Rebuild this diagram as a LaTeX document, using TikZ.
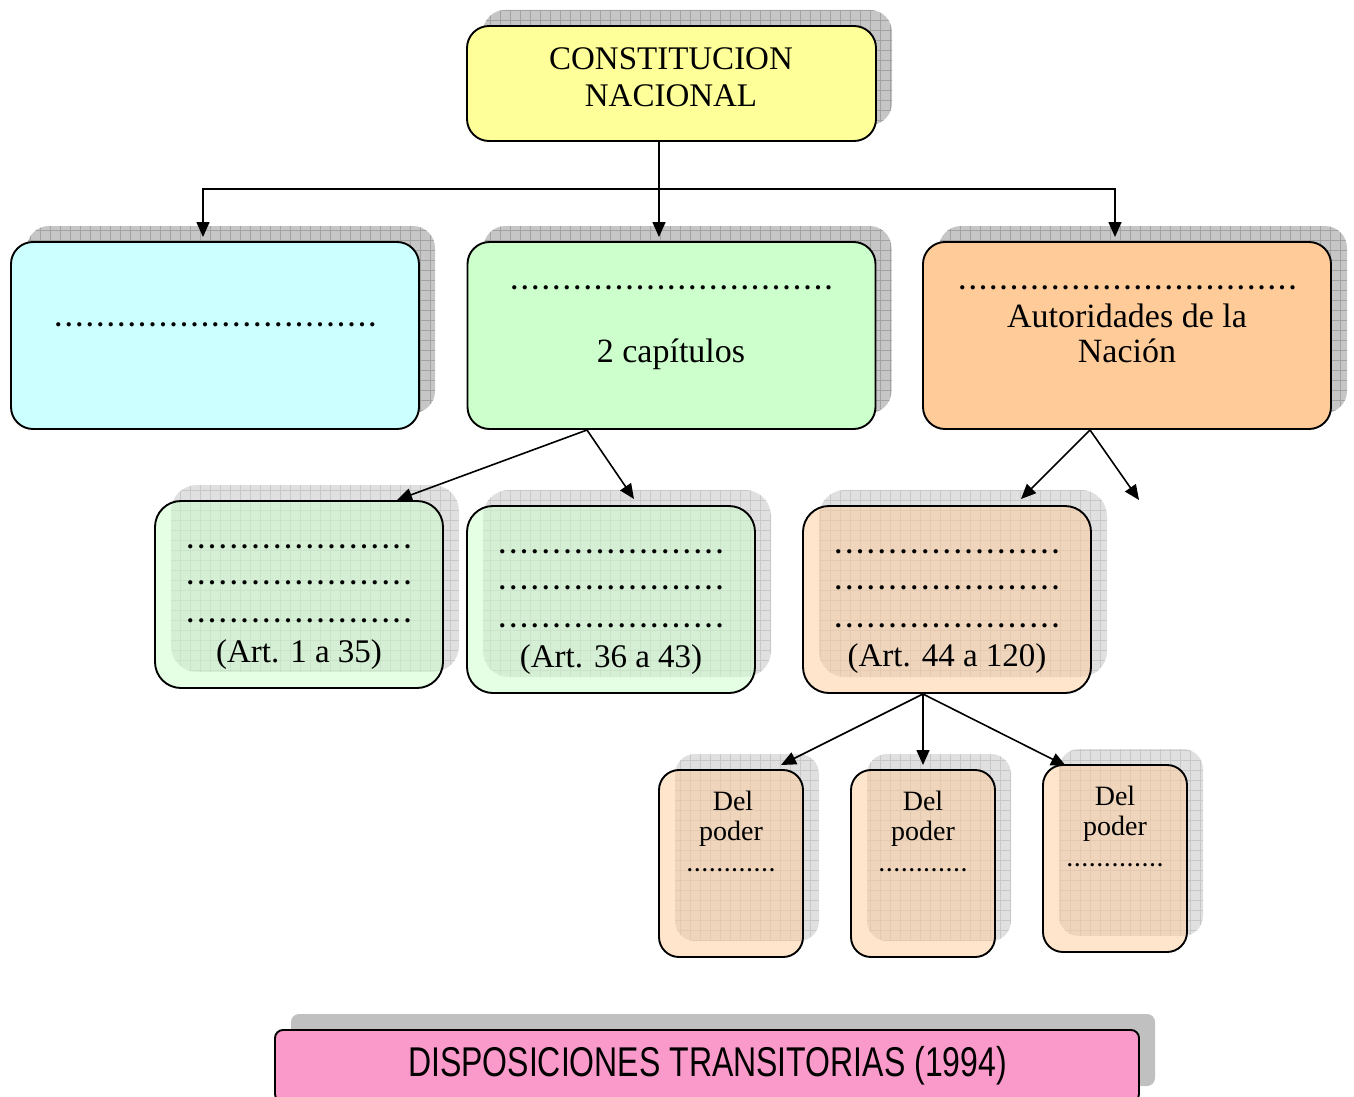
\documentclass[tikz,border=0pt]{standalone}
\usepackage{fontspec}
\setmainfont{Liberation Serif}
\newfontfamily\barfont{Liberation Sans}
\usetikzlibrary{arrows.meta,calc}
\pgfdeclarelayer{bg}
\pgfsetlayers{bg,main}
\definecolor{yellowf}{HTML}{FFFF99}
\definecolor{cyanf}{HTML}{CCFFFF}
\definecolor{greenf}{HTML}{CCFFCC}
\definecolor{orangef}{HTML}{FFCC99}
\definecolor{pinkf}{HTML}{FA9ACA}
\definecolor{shdark}{HTML}{C6C6C6}
\definecolor{shdarkgrid}{HTML}{A2A2A2}
\definecolor{shlight}{HTML}{E0E0E0}
\definecolor{shlightgrid}{HTML}{C8C8C8}
\definecolor{barshadow}{HTML}{C0C0C0}
\newcommand\leaderdots[2]{\hbox to #1{\xleaders\hbox to #2{\hss.\hss}\hfill}}
\newcommand\shadowof[3]{\path[#2, rounded corners=#3] ([shift={(16,-16)}]#1.south west) rectangle ([shift={(16,-16)}]#1.north east);}
\tikzset{
  boxbase/.style={draw=black, line width=1.9pt, inner sep=0pt, outer sep=0pt},
  topbox/.style={boxbase, fill=yellowf, rounded corners=22pt, minimum width=409pt, minimum height=115pt},
  bigbox/.style={boxbase, rounded corners=22pt, minimum width=408pt, minimum height=187pt},
  midbox/.style={boxbase, rounded corners=26pt, minimum width=288pt, minimum height=187pt, fill opacity=0.5, text opacity=1},
  smallbox/.style={boxbase, rounded corners=20pt, minimum width=144pt, minimum height=187pt, fill=orangef, fill opacity=0.5, text opacity=1},
  barbox/.style={boxbase, fill=pinkf, rounded corners=8pt, minimum width=864pt, minimum height=72pt},
  darkshadow/.style={fill=shdark, path picture={\draw[shdarkgrid, line width=0.7pt, step=10pt] (path picture bounding box.south west) grid (path picture bounding box.north east);}},
  lightshadow/.style={fill=shlight, path picture={\draw[shlightgrid, line width=0.7pt, step=10pt] (path picture bounding box.south west) grid (path picture bounding box.north east);}},
  barshad/.style={fill=barshadow},
  txt/.style={anchor=base, inner sep=0pt, text=black},
  toptxt/.style={txt, font=\fontsize{33}{37}\selectfont},
  bigtxt/.style={txt, font=\fontsize{34}{36}\selectfont},
  midtxt/.style={txt, font=\fontsize{33}{36}\selectfont},
  smalltxt/.style={txt, font=\fontsize{28}{30}\selectfont},
  dottxt/.style={txt, font=\bfseries\fontsize{26}{28}\selectfont},
  smalldot/.style={txt, font=\bfseries\fontsize{20}{22}\selectfont},
  bartxt/.style={txt, font=\barfont\fontsize{32}{34}\selectfont},
  conn/.style={draw=black, line width=1.6pt},
  arr/.style={conn, -{Triangle[length=15pt,width=13pt]}},
}
\begin{document}
\begin{tikzpicture}[x=1pt, y=-1pt]
\path[use as bounding box] (0,0) rectangle (1354,1097);

% boxes
\node[topbox] (top) at (671.5,83.5) {};
\node[bigbox, fill=cyanf] (cyanbox) at (215,335.5) {};
\node[bigbox, fill=greenf] (greenbox) at (671.5,335.5) {};
\node[bigbox, fill=orangef] (orangebox) at (1127,335.5) {};
\node[midbox, fill=greenf] (sub1) at (299,594.5) {};
\node[midbox, fill=greenf] (sub2) at (611,599.5) {};
\node[midbox, fill=orangef] (sub3) at (947,599.5) {};
\node[smallbox] (pow1) at (731,863.5) {};
\node[smallbox] (pow2) at (923,863.5) {};
\node[smallbox] (pow3) at (1115,858.5) {};
\node[barbox] (bar) at (707,1066) {};

% shadows
\begin{pgfonlayer}{bg}
\shadowof{top}{darkshadow}{22pt}
\shadowof{cyanbox}{darkshadow}{22pt}
\shadowof{greenbox}{darkshadow}{22pt}
\shadowof{orangebox}{darkshadow}{22pt}
\shadowof{sub1}{lightshadow}{26pt}
\shadowof{sub2}{lightshadow}{26pt}
\shadowof{sub3}{lightshadow}{26pt}
\shadowof{pow1}{lightshadow}{20pt}
\shadowof{pow2}{lightshadow}{20pt}
\shadowof{pow3}{lightshadow}{20pt}
\shadowof{bar}{barshad}{8pt}
\end{pgfonlayer}

% texts
\node[toptxt] (tc1) at (671,70) {CONSTITUCION};
\node[toptxt] (tc2) at (671,107) {NACIONAL};
\node[dottxt] (cyd) at (215.5,326) {\leaderdots{324.5pt}{10.45pt}};
\node[dottxt] (grd) at (671.5,289) {\leaderdots{324.5pt}{10.45pt}};
\node[bigtxt] (grt) at (671,362) {2 capítulos};
\node[dottxt] (ord) at (1127.5,289) {\leaderdots{340.4pt}{10.3pt}};
\node[bigtxt] (or1) at (1127,327) {Autoridades de la};
\node[bigtxt] (or2) at (1127,362) {Nación};

\node[dottxt] (s1d1) at (299,548) {\leaderdots{228pt}{10.85pt}};
\node[dottxt] (s1d2) at (299,584) {\leaderdots{228pt}{10.85pt}};
\node[dottxt] (s1d3) at (299,622) {\leaderdots{228pt}{10.85pt}};
\node[midtxt] (s1t) at (299,662) {(Art. 1 a 35)};
\node[dottxt] (s2d1) at (611,553) {\leaderdots{228pt}{10.85pt}};
\node[dottxt] (s2d2) at (611,589) {\leaderdots{228pt}{10.85pt}};
\node[dottxt] (s2d3) at (611,627) {\leaderdots{228pt}{10.85pt}};
\node[midtxt] (s2t) at (611,667) {(Art. 36 a 43)};
\node[dottxt] (s3d1) at (947,553) {\leaderdots{228pt}{10.85pt}};
\node[dottxt] (s3d2) at (947,589) {\leaderdots{228pt}{10.85pt}};
\node[dottxt] (s3d3) at (947,627) {\leaderdots{228pt}{10.85pt}};
\node[midtxt] (s3t) at (947,666) {(Art. 44 a 120)};

\node[smalltxt] (p1a) at (733,810) {Del};
\node[smalltxt] (p1b) at (731,840) {poder};
\node[smalldot] (p1c) at (731,871) {\leaderdots{89.6pt}{7.45pt}};
\node[smalltxt] (p2a) at (923,810) {Del};
\node[smalltxt] (p2b) at (923,840) {poder};
\node[smalldot] (p2c) at (923,871) {\leaderdots{89.6pt}{7.45pt}};
\node[smalltxt] (p3a) at (1115,805) {Del};
\node[smalltxt] (p3b) at (1115,835) {poder};
\node[smalldot] (p3c) at (1115,866) {\leaderdots{97.7pt}{7.5pt}};

\node[bartxt] (bt) at (707.5,1076) {\scalebox{1}[1.3]{DISPOSICIONES TRANSITORIAS (1994)}};

% connectors
\coordinate (bus) at (659,189);
\coordinate (inL) at (203,237);
\coordinate (inM) at (659,237);
\coordinate (inR) at (1115,237);
\draw[conn] (top.south -| bus) -- (bus);
\draw[arr] (bus) -| (inL);
\draw[arr] (bus) -- (inM);
\draw[arr] (bus) -| (inR);

\coordinate (gOut) at (587,430);
\coordinate (s1in) at (397,500);
\coordinate (s2in) at (634,499);
\draw[arr] (gOut) -- (s1in);
\draw[arr] (gOut) -- (s2in);

\coordinate (oOut) at (1090,430);
\coordinate (s3in) at (1021,499);
\coordinate (loose) at (1139,500);
\draw[arr] (oOut) -- (s3in);
\draw[arr] (oOut) -- (loose);

\coordinate (s3out) at (923,694);
\coordinate (p1in) at (781,765);
\coordinate (p2in) at (923,765);
\coordinate (p3in) at (1066,766);
\draw[arr] (s3out) -- (p1in);
\draw[arr] (s3out) -- (p2in);
\draw[arr] (s3out) -- (p3in);
\end{tikzpicture}
\end{document}
